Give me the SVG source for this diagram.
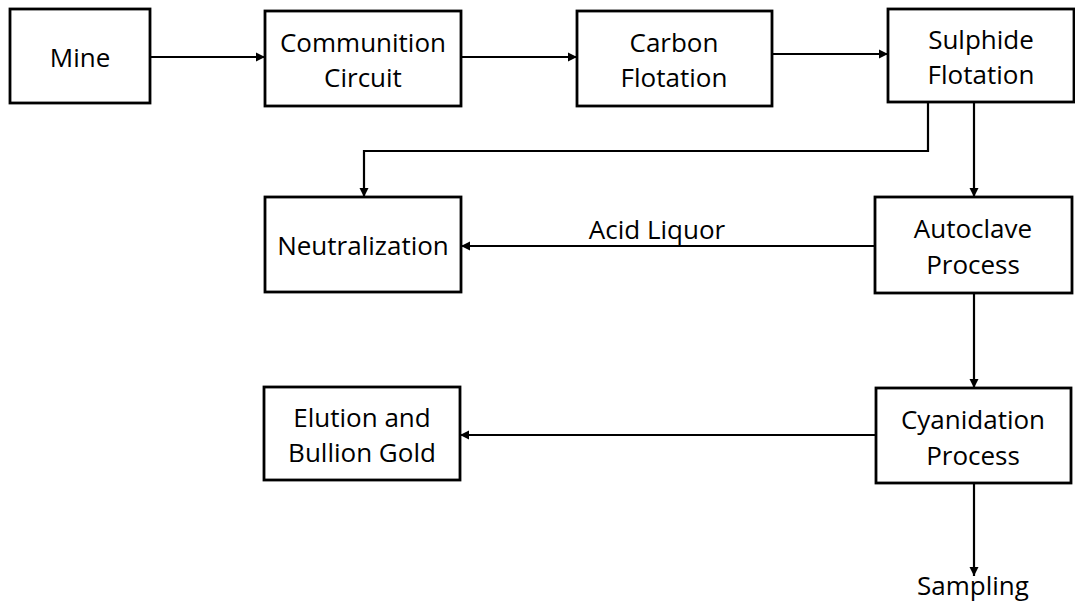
<svg xmlns="http://www.w3.org/2000/svg" width="1075" height="603" viewBox="0 0 1075 603">
<style>
.box{fill:#fff;stroke:#000;stroke-width:2.8}
.t{font-family:"Open Sans","Liberation Sans",sans-serif;font-size:26px;fill:#000;text-anchor:middle;dominant-baseline:central}
.c{fill:none;stroke:#000;stroke-width:2.2;marker-end:url(#ah)}
</style>
<defs>
<marker id="ah" viewBox="0 0 10 10" refX="10" refY="5" markerWidth="4.2" markerHeight="4.2" orient="auto" markerUnits="strokeWidth">
<path d="M0,0 L10,5 L0,10 z" fill="#000"/>
</marker>
</defs>
<rect width="1075" height="603" fill="#fff"/>
<g id="connectors">
<path class="c" d="M150,57 H265"/>
<path class="c" d="M461,57 H577"/>
<path class="c" d="M772,54 H888"/>
<path class="c" d="M974,102 V197"/>
<path class="c" d="M928,102 V151 H364 V197"/>
<path class="c" d="M875,246 H461"/>
<path class="c" d="M974,293 V388"/>
<path class="c" d="M876,435 H460"/>
<path class="c" d="M974,483 V576"/>
</g>
<g id="mine"><rect class="box" x="10" y="9" width="140" height="94"/><text class="t" x="80" y="57">Mine</text></g>
<g id="comminution"><rect class="box" x="265" y="11" width="196" height="95"/><text class="t" x="363" y="42">Communition</text><text class="t" x="363" y="77">Circuit</text></g>
<g id="carbon"><rect class="box" x="577" y="11" width="195" height="95"/><text class="t" x="674" y="42">Carbon</text><text class="t" x="674" y="77">Flotation</text></g>
<g id="sulphide"><rect class="box" x="888" y="9" width="186" height="93"/><text class="t" x="981" y="39">Sulphide</text><text class="t" x="981" y="74">Flotation</text></g>
<g id="neutralization"><rect class="box" x="265" y="197" width="196" height="95"/><text class="t" x="363" y="245">Neutralization</text></g>
<g id="autoclave"><rect class="box" x="875" y="197" width="197" height="96"/><text class="t" x="973" y="228">Autoclave</text><text class="t" x="973" y="264">Process</text></g>
<g id="elution"><rect class="box" x="264" y="387" width="196" height="93"/><text class="t" x="362" y="417">Elution and</text><text class="t" x="362" y="452">Bullion Gold</text></g>
<g id="cyanidation"><rect class="box" x="876" y="388" width="195" height="95"/><text class="t" x="973" y="419">Cyanidation</text><text class="t" x="973" y="455">Process</text></g>
<g id="labels"><text class="t" x="657" y="229">Acid Liquor</text><text class="t" x="973" y="585">Sampling</text></g>
</svg>
